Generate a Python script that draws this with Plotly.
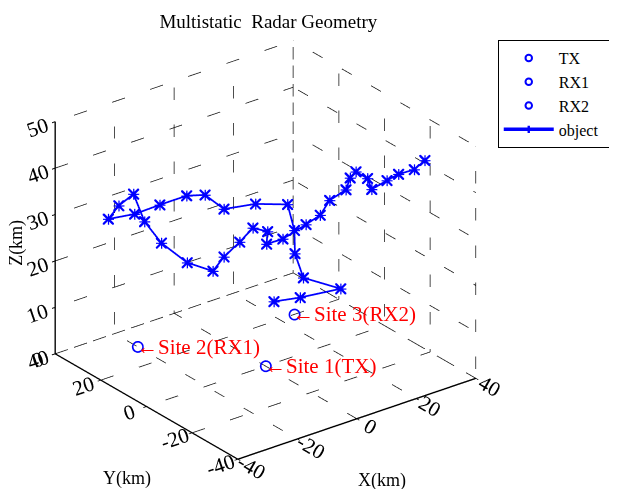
import plotly.graph_objects as go

# ---- data ----
x_ticks = [-40, -20, 0, 20, 40]
y_ticks = [-40, -20, 0, 20, 40]
z_ticks = [0, 10, 20, 30, 40, 50]

site_names = ["TX", "RX1", "RX2"]
site_labels = ["←Site 1(TX)", "←Site 2(RX1)", "←Site 3(RX2)"]
site_x = [0, -20, 25]
site_y = [0, 30, 20]
site_z = [0, 0, 0]

obj_x = [1.6, 6.6, 14.3, 7.2, 5.6, 5.5, 4.2, -1.9, -7.9, -11.5, -15.0, -20.1, -24.9,
         -29.9, -27.9, -25.1, -23.0, -19.8, -14.9, -10.0, -7.9, -4.9, -2.4, 0.4, 0.2,
         3.3, 7.7, 10.4, 12.2, 15.3, 16.1, 17.2, 19.4, 20.2, 23.1, 25.3, 28.3, 30.3]
obj_y = [-1.6, -6.6, -14.3, -7.2, -5.6, -5.5, -4.2, 1.9, 7.9, 11.5, 15.0, 20.1, 24.9,
         29.9, 27.9, 25.1, 23.0, 19.8, 14.9, 10.0, 7.9, 4.9, 2.4, -0.4, -0.2,
         -3.3, -7.7, -10.4, -12.2, -15.3, -16.1, -17.2, -19.4, -20.2, -23.1, -25.3, -28.3, -30.3]
obj_z = [14.0, 15.2, 17.6, 19.5, 24.6, 29.6, 35.1, 34.8, 33.3, 36.1, 35.7, 33.4, 31.1,
         29.7, 32.7, 35.4, 29.6, 25.2, 21.3, 19.8, 23.0, 26.4, 29.6, 29.0, 26.3,
         27.6, 31.0, 33.2, 36.5, 39.0, 41.6, 43.0, 41.7, 39.4, 41.5, 43.0, 44.2, 46.3]

FONT = "Liberation Serif"
xmin, xmax = x_ticks[0], x_ticks[-1]
ymin, ymax = y_ticks[0], y_ticks[-1]
zmin, zmax = z_ticks[0], z_ticks[-1]

# ---- dotted grid on the back planes (MATLAB style) ----
gx, gy, gz = [], [], []
def seg(p, q):
    gx.extend([p[0], q[0], None]); gy.extend([p[1], q[1], None]); gz.extend([p[2], q[2], None])
for xv in x_ticks:
    seg((xv, ymin, zmin), (xv, ymax, zmin))
    seg((xv, ymax, zmin), (xv, ymax, zmax))
for yv in y_ticks:
    seg((xmin, yv, zmin), (xmax, yv, zmin))
    seg((xmax, yv, zmin), (xmax, yv, zmax))
for zv in z_ticks:
    seg((xmin, ymax, zv), (xmax, ymax, zv))
    seg((xmax, ymin, zv), (xmax, ymax, zv))

fig = go.Figure()
fig.add_trace(go.Scatter3d(x=gx, y=gy, z=gz, mode="lines",
                           line=dict(color="#111111", width=1.5, dash="dot"),
                           showlegend=False, hoverinfo="skip"))

for i in range(3):
    fig.add_trace(go.Scatter3d(x=[site_x[i]], y=[site_y[i]], z=[site_z[i]],
                               mode="markers", name=site_names[i],
                               marker=dict(symbol="circle-open", size=6.5,
                                           color="#0000ff", line=dict(color="#0000ff", width=2))))

fig.add_trace(go.Scatter3d(x=obj_x, y=obj_y, z=obj_z, mode="lines+markers",
                           name="object\u00a0\u00a0\u00a0\u00a0\u00a0",
                           line=dict(color="#0000ff", width=3.5),
                           marker=dict(symbol="cross", size=6, color="#0000ff")))
fig.add_trace(go.Scatter3d(x=obj_x, y=obj_y, z=obj_z, mode="markers",
                           marker=dict(symbol="x", size=2.6, color="#0000ff"),
                           showlegend=False, hoverinfo="skip"))

def axis(rng, tv):
    return dict(range=rng, tickvals=tv, ticktext=[str(v) for v in tv],
                showgrid=False, zeroline=False, showbackground=False, showspikes=False,
                showline=True, linecolor="black", linewidth=3,
                ticks="outside", ticklen=4, tickcolor="black", tickwidth=2,
                tickfont=dict(family=FONT, size=16, color="black"),
                title=dict(text=""))

site_annots = [dict(x=site_x[i], y=site_y[i], z=site_z[i], text=site_labels[i],
                    showarrow=False, xanchor="left", yanchor="middle", xshift=-3,
                    font=dict(family=FONT, size=21, color="#ff0000"))
               for i in range(3)]

k = 1.25
d = (-0.5458, -0.7113, 0.443)
fig.update_layout(
    width=617, height=489,
    margin=dict(l=0, r=0, t=0, b=0),
    paper_bgcolor="white",
    font=dict(family=FONT, color="black"),
    showlegend=True,
    title=dict(text="Multistatic  Radar Geometry", x=0.422, xanchor="center", y=0.972,
               yanchor="middle", font=dict(family=FONT, size=19, color="black")),
    scene=dict(
        domain=dict(x=[0.0, 0.8476], y=[0.0143, 0.9959]),
        xaxis=axis([xmin, xmax], x_ticks),
        yaxis=axis([ymin, ymax], y_ticks),
        zaxis=axis([zmin, zmax], z_ticks),
        aspectmode="manual", aspectratio=dict(x=k, y=k, z=0.863 * k),
        camera=dict(projection=dict(type="orthographic"),
                    eye=dict(x=1.6 * d[0], y=1.6 * d[1], z=1.6 * d[2]),
                    up=dict(x=0, y=0, z=1), center=dict(x=0, y=0, z=0)),
        annotations=site_annots,
    ),
    legend=dict(x=497 / 617, xanchor="left", y=1 - 32 / 489, yanchor="top",
                bordercolor="black", borderwidth=1, bgcolor="white", itemwidth=50,
                font=dict(family=FONT, size=16, color="black")),
    annotations=[
        dict(text="X(km)", x=380 / 617, y=1 - 472 / 489, xref="paper", yref="paper",
             xanchor="center", yanchor="middle",
             showarrow=False, font=dict(family=FONT, size=18, color="black")),
        dict(text="Y(km)", x=121 / 617, y=1 - 470 / 489, xref="paper", yref="paper",
             xanchor="center", yanchor="middle",
             showarrow=False, font=dict(family=FONT, size=18, color="black")),
        dict(text="Z(km)", x=9 / 617, y=1 - 235 / 489, xref="paper", yref="paper",
             xanchor="center", yanchor="middle",
             showarrow=False, textangle=-90, font=dict(family=FONT, size=18, color="black")),
    ],
)
fig.write_html("out.html")
